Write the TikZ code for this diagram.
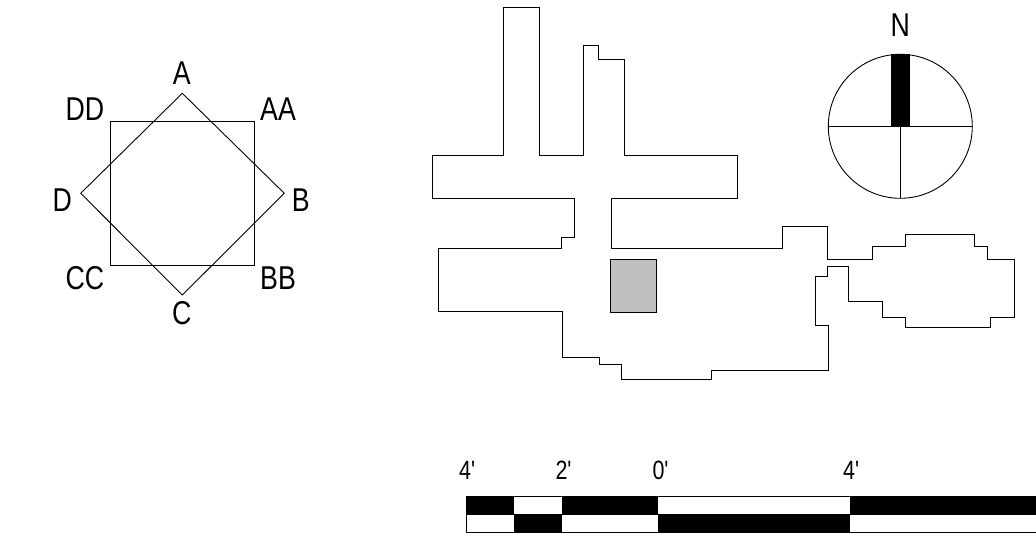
\documentclass[tikz,border=0pt]{standalone}
\usepackage{fontspec}
\setmainfont[FakeStretch=0.81]{Liberation Sans}
\tikzset{
  plan/.style={draw=black,line width=0.9pt,line join=miter},
  thin line/.style={draw=black,line width=0.9pt},
  lab/.style={inner sep=0pt,font=\fontsize{33}{35}\selectfont,text=black,anchor=center},
  scalelab/.style={inner sep=0pt,font=\fontsize{26.5}{28}\selectfont,text=black,anchor=center},
}
\begin{document}
\begin{tikzpicture}[x=1pt,y=-1pt]
\useasboundingbox (0,0) rectangle (1036,553);
% key plan
\draw[thin line] (110.7,121.3) rectangle (254.3,265);
\draw[thin line] (182.3,93.3) -- (284.3,193.3) -- (182.3,295) -- (80.7,193.3) -- cycle;
\node[lab] (lA) at (181.7,73.3) {A};
\node[lab] (lB) at (300.7,200) {B};
\node[lab] (lC) at (181.7,313.3) {C};
\node[lab] (lD) at (62.3,200) {D};
\node[lab] (lAA) at (278,109.3) {AA};
\node[lab] (lBB) at (278,277.7) {BB};
\node[lab] (lCC) at (85,277.7) {CC};
\node[lab] (lDD) at (85,109.3) {DD};
% building outline
\draw[plan] (503.5,7) -- (539.5,7) -- (539.5,155.5) -- (583.5,155.5) -- (583.5,45) -- (598,45) -- (598,59) -- (624,59) -- (624,155.5) -- (737.5,155.5) -- (737.5,198) -- (611.5,198) -- (611.5,248.5) -- (782,248.5) -- (782,226.5) -- (827.5,226.5) -- (827.5,259) -- (872,259) -- (872,246.5) -- (905.5,246.5) -- (905.5,234.5) -- (974,234.5) -- (974,246.5) -- (987,246.5) -- (987,259) -- (1014.5,259) -- (1014.5,317) -- (990.5,317) -- (990.5,327.5) -- (905,327.5) -- (905,317) -- (882.5,317) -- (882.5,301) -- (848.5,301) -- (848.5,266.5) -- (827.5,266.5) -- (827.5,276.5) -- (815.5,276.5) -- (815.5,325) -- (828,325) -- (828,370.5) -- (711,370.5) -- (711,379.3) -- (621.3,379.3) -- (621.3,364.3) -- (599.7,364.3) -- (599.7,357) -- (562.3,357) -- (562.3,311.3) -- (438.7,311.3) -- (438.7,248.7) -- (561.3,248.7) -- (561.3,237.7) -- (574.7,237.7) -- (574.7,198) -- (432.5,198) -- (432.5,155.5) -- (503.5,155.5) -- cycle;
\draw[plan,fill=black!25] (610.9,259.3) rectangle (656.7,312.7);
% north arrow
\fill[black] (891.3,54) rectangle (910,126.3);
\draw[thin line] (900.3,126.3) circle (72);
\draw[thin line] (828.3,126.3) -- (972.3,126.3);
\draw[thin line] (900.3,126.3) -- (900.3,198.3);
\node[lab] (lN) at (900.3,25.3) {N};
% scale bar
\node[scalelab] (s4a) at (467.7,470.7) {4\textquotesingle};
\node[scalelab] (s2) at (564,470.7) {2\textquotesingle};
\node[scalelab] (s0) at (661,470.7) {0\textquotesingle};
\node[scalelab] (s4b) at (851.7,470.7) {4\textquotesingle};
\draw[thin line] (466,496) rectangle (1036,532.5);
\draw[thin line] (466,514.3) -- (1036,514.3);
\fill[black] (466,496) rectangle (513.7,514.3);
\fill[black] (513.7,514.3) rectangle (561.7,532.5);
\fill[black] (561.7,496) rectangle (658.3,514.3);
\fill[black] (658.3,514.3) rectangle (849.5,532.5);
\fill[black] (849.5,496) rectangle (1036,514.3);
\end{tikzpicture}
\end{document}
